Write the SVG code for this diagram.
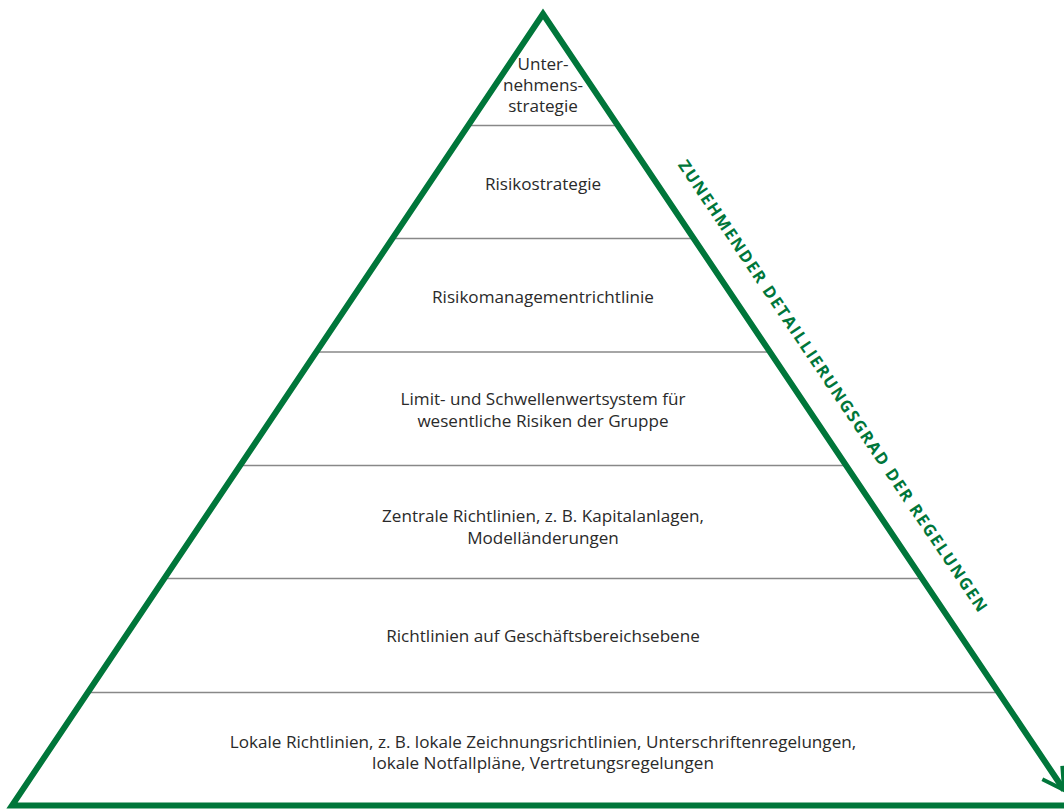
<svg xmlns="http://www.w3.org/2000/svg" width="1064" height="810" viewBox="0 0 1064 810">
  <style>
    .lbl { font-family: "Open Sans", "Liberation Sans", sans-serif; font-size: 17.1px; fill: #2a2a2a; text-anchor: middle; }
    .sep { stroke: #888; stroke-width: 1.5; fill: none; }
    .frame { stroke: #00763a; stroke-width: 6; fill: none; stroke-linejoin: miter; stroke-miterlimit: 10; }
    .axis { font-family: "Open Sans", "Liberation Sans", sans-serif; font-size: 16.5px; font-weight: bold; fill: #00763a; text-anchor: middle; }
  </style>
  <defs>
    <marker id="arrow" viewBox="0 0 10 10" refX="8" refY="5" markerWidth="5" markerHeight="5" orient="auto" markerUnits="strokeWidth">
      <path d="M 1 1 L 8 5 L 1 9" fill="none" stroke="#00763a" stroke-width="1.3"/>
    </marker>
  </defs>
  <rect x="0" y="0" width="1064" height="810" fill="#ffffff"/>

  <g id="separators">
    <line class="sep" x1="470" y1="125.5" x2="616" y2="125.5"/>
    <line class="sep" x1="394" y1="238.5" x2="692" y2="238.5"/>
    <line class="sep" x1="316" y1="352" x2="770" y2="352"/>
    <line class="sep" x1="238" y1="465.5" x2="848" y2="465.5"/>
    <line class="sep" x1="162" y1="578.5" x2="924" y2="578.5"/>
    <line class="sep" x1="86" y1="692.5" x2="1000" y2="692.5"/>
  </g>

  <g id="connectors">
    <path class="frame" d="M 1070 805.5 L 12 805.5 L 543 14 L 1064 790" marker-end="url(#arrow)"/>
  </g>

  <g id="level1">
    <text class="lbl" x="543" y="70">Unter-</text>
    <text class="lbl" x="543" y="91">nehmens-</text>
    <text class="lbl" x="543" y="112">strategie</text>
  </g>
  <g id="level2">
    <text class="lbl" x="543" y="190">Risikostrategie</text>
  </g>
  <g id="level3">
    <text class="lbl" x="543" y="303">Risikomanagementrichtlinie</text>
  </g>
  <g id="level4">
    <text class="lbl" x="543" y="405">Limit- und Schwellenwertsystem für</text>
    <text class="lbl" x="543" y="427">wesentliche Risiken der Gruppe</text>
  </g>
  <g id="level5">
    <text class="lbl" x="543" y="522">Zentrale Richtlinien, z. B. Kapitalanlagen,</text>
    <text class="lbl" x="543" y="544">Modelländerungen</text>
  </g>
  <g id="level6">
    <text class="lbl" x="543" y="642">Richtlinien auf Geschäftsbereichsebene</text>
  </g>
  <g id="level7">
    <text class="lbl" x="543" y="748">Lokale Richtlinien, z. B. lokale Zeichnungsrichtlinien, Unterschriftenregelungen,</text>
    <text class="lbl" x="543" y="769">lokale Notfallpläne, Vertretungsregelungen</text>
  </g>

  <g id="axis-label">
    <text class="axis" transform="translate(828 389) rotate(56.1)" x="0" y="0" textLength="540" lengthAdjust="spacing">ZUNEHMENDER DETAILLIERUNGSGRAD DER REGELUNGEN</text>
  </g>
</svg>
